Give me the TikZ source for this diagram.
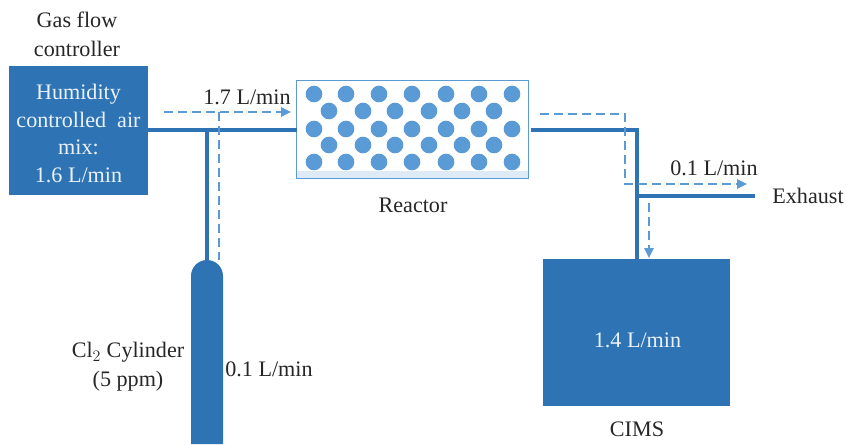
\documentclass[tikz,border=0pt]{standalone}
\usepackage{fontspec}
\setmainfont{Liberation Serif}
\usetikzlibrary{arrows.meta}
\definecolor{pipeblue}{HTML}{2E74B5}
\definecolor{dotblue}{HTML}{5B9BD5}
\definecolor{bandblue}{HTML}{DEEAF6}
\tikzset{
  x=0.75pt,y=-0.75pt,
  block/.style={draw=none,fill=pipeblue,inner sep=0pt},
  blocktext/.style={text=white!90!pipeblue,inner sep=0pt,align=center,font=\fontsize{16.6}{20.6}\selectfont},
  lbl/.style={inner sep=0pt,align=center,font=\fontsize{16.6}{21.7}\selectfont,text=black!85},
  pipe/.style={draw=pipeblue,line width=2.8pt},
  pipethin/.style={draw=pipeblue,line width=2.5pt},
  flow/.style={draw=dotblue,line width=1.4pt,dash pattern=on 6.5pt off 4pt},
  flowtip/.style={-{Triangle[length=7.5pt,width=7pt,fill=dotblue]}},
  bead/.style={circle,fill=dotblue,draw=none,minimum size=12.5pt,inner sep=0pt}
}
\begin{document}
\begin{tikzpicture}
\useasboundingbox (0,0) rectangle (846,444);
% coordinates
\coordinate (j1) at (207,130);
\coordinate (b1) at (637,130);
\coordinate (j2) at (637,196);
\coordinate (ex) at (755,196);
\coordinate (fa) at (164,112);
\coordinate (fb) at (291,112);
\coordinate (fc) at (219,112);
\coordinate (fd) at (219,260);
\coordinate (fe) at (540,114);
\coordinate (ff) at (625,114);
\coordinate (fg) at (625,184);
\coordinate (fh) at (747,184);
\coordinate (fi) at (649,203);
\coordinate (fj) at (649,258);
% air box
\node[block,minimum width=104.25pt,minimum height=96.75pt] (air) at (78.5,130.5) {};
\node[blocktext] (airtext) at (78.5,133.5) {Humidity\\controlled\ \ air\\mix:\\1.6 L/min};
% reactor
\node[draw=none,inner sep=0pt,minimum width=173.25pt,minimum height=72.75pt] (reactor) at (412.5,129.5) {};
\fill[bandblue] (297,171) rectangle (528,178);
\foreach \px/\i in {314/a,346/b,379/c,412/d,446/e,479/f,512/g}{
  \node[bead] (r1\i) at (\px,94) {};
  \node[bead] (r3\i) at (\px,129) {};
  \node[bead] (r5\i) at (\px,162) {};
}
\foreach \px/\i in {329/a,363/b,395/c,429/d,462/e,494/f}{
  \node[bead] (r2\i) at (\px,111) {};
  \node[bead] (r4\i) at (\px,145) {};
}
\draw[dotblue,line width=1.1pt] (reactor.south west) rectangle (reactor.north east);
% cylinder
\path[fill=pipeblue] (191,444) -- (191,276) arc[start angle=180,end angle=360,radius=16] -- (223,444) -- cycle;
\node[inner sep=0pt,minimum width=24pt,minimum height=1pt] (cyl) at (207,262) {};
% CIMS
\node[block,minimum width=140.25pt,minimum height=110.25pt] (cims) at (636.5,332.5) {};
\node[blocktext] (cimstext) at (637.5,340.5) {1.4 L/min};
% pipes
\draw[pipe] (air.east |- j1) -- (reactor.west |- j1);
\draw[pipe] (j1) -- (cyl.center);
\draw[pipe,line join=miter] (531,130) -- (b1) -- (j2) -- (cims.north -| j2);
\draw[pipethin] (j2) -- (ex);
% flows
\draw[flow,flowtip] (fa) -- (fb);
\draw[flow] (fc) -- (fd);
\draw[flow,flowtip] (fe) -- (ff) -- (fg) -- (fh);
\draw[flow,flowtip] (fi) -- (fj);
% labels
\node[lbl] (t1) at (77,34) {Gas flow\\controller};
\node[lbl] (t2) at (247,97) {1.7 L/min};
\node[lbl] (t3) at (413,205) {Reactor};
\node[lbl] (t4) at (714,168) {0.1 L/min};
\node[lbl] (t5) at (808,196) {Exhaust};
\node[lbl] (t6) at (269,369) {0.1 L/min};
\node[lbl] (t7) at (128,367) {Cl$_2$ Cylinder\\(5 ppm)};
\node[lbl] (t8) at (637,429) {CIMS};
\end{tikzpicture}
\end{document}
